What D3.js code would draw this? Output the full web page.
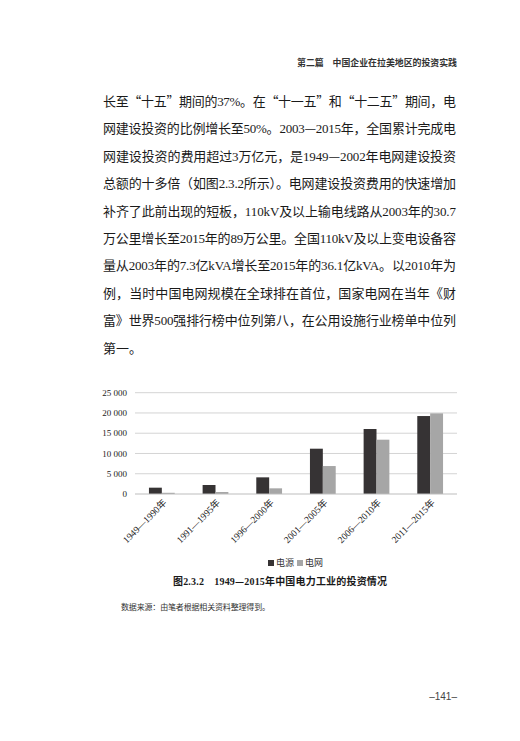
<!DOCTYPE html>
<html>
<head>
<meta charset="utf-8">
<script src="https://cdn.jsdelivr.net/npm/d3@7"></script>
<style>
    html, body { margin: 0; padding: 0; background: #fff; }
    svg { display: block; }
</style>
</head>
<body>
<div id="page"></div>
<script>
// Chart data (unit: 亿元)
const categories = ['1949—1990年', '1991—1995年', '1996—2000年', '2001—2005年', '2006—2010年', '2011—2015年'];
const seriesNames = ['电源', '电网'];
const powerSource = [1560, 2220, 4110, 11180, 16040, 19240];
const powerGrid = [300, 490, 1400, 6900, 13400, 19900];
const yTicks = [0, 5000, 10000, 15000, 20000, 25000];
const yTickLabels = ['0', '5 000', '10 000', '15 000', '20 000', '25 000'];

// Page texts
const headerText = '第二篇　中国企业在拉美地区的投资实践';
const bodyLines = [
    '长至“十五”期间的37%。在“十一五”和“十二五”期间，电',
    '网建设投资的比例增长至50%。2003—2015年，全国累计完成电',
    '网建设投资的费用超过3万亿元，是1949—2002年电网建设投资',
    '总额的十多倍（如图2.3.2所示）。电网建设投资费用的快速增加',
    '补齐了此前出现的短板，110kV及以上输电线路从2003年的30.7',
    '万公里增长至2015年的89万公里。全国110kV及以上变电设备容',
    '量从2003年的7.3亿kVA增长至2015年的36.1亿kVA。以2010年为',
    '例，当时中国电网规模在全球排在首位，国家电网在当年《财',
    '富》世界500强排行榜中位列第八，在公用设施行业榜单中位列',
    '第一。'
];
const captionText = '图2.3.2　1949—2015年中国电力工业的投资情况';
const sourceText = '数据来源：由笔者根据相关资料整理得到。';
const pageNumber = '–141–';

const W = 520, H = 741;
const SERIF = '"Liberation Serif", "Noto Sans CJK SC", serif';
const CJK = '"Noto Sans CJK SC", sans-serif';
const colors = ['#363334', '#a6a6a6'];

/**
 * Split a mixed line into latin (serif) and CJK runs as tspans
 */
function fillMixed(sel, str) {
    str.split(/([0-9A-Za-z.%]+)/).filter(s => s.length).forEach(part => {
        const latin = /^[0-9A-Za-z.%]+$/.test(part);
        sel.append('tspan')
            .style('font-family', latin ? SERIF : CJK)
            .text(part);
    });
}

const svg = d3.select('#page')
    .append('svg')
    .attr('width', W)
    .attr('height', H);

svg.append('rect')
    .attr('width', W)
    .attr('height', H)
    .attr('fill', '#fff');

// Running header
svg.append('text')
    .attr('x', 297)
    .attr('y', 66)
    .attr('textLength', 160)
    .attr('lengthAdjust', 'spacingAndGlyphs')
    .style('font-family', CJK)
    .style('font-size', '9px')
    .style('font-weight', 700)
    .attr('fill', '#333')
    .text(headerText);

// Body paragraph, justified line by line
const textLeft = 103, textWidth = 353;
svg.append('g')
    .selectAll('text')
    .data(bodyLines)
    .enter()
    .append('text')
    .attr('x', textLeft)
    .attr('y', (d, i) => 106 + i * 27.4)
    .style('font-size', '13px')
    .attr('fill', '#1a1a1a')
    .each(function (d, i) {
        const t = d3.select(this);
        if (i < bodyLines.length - 1) {
            t.attr('textLength', textWidth).attr('lengthAdjust', 'spacing');
        }
        fillMixed(t, d);
    });

// Bar chart
const plot = { left: 135, right: 457, top: 392.7, bottom: 494 };

const x0 = d3.scaleBand()
    .domain(categories)
    .range([plot.left, plot.right])
    .padding(0);

const x1 = d3.scaleBand()
    .domain(seriesNames)
    .range([x0.bandwidth() * 0.26, x0.bandwidth() * 0.74])
    .padding(0);

const y = d3.scaleLinear()
    .domain([0, 25000])
    .range([plot.bottom, plot.top]);

const chart = svg.append('g');

// Gridlines
chart.append('g')
    .selectAll('line')
    .data(yTicks.slice(1))
    .enter()
    .append('line')
    .attr('x1', plot.left)
    .attr('x2', plot.right)
    .attr('y1', d => y(d))
    .attr('y2', d => y(d))
    .attr('stroke', '#d4d4d4')
    .attr('stroke-width', 1);

// Y axis labels
chart.append('g')
    .selectAll('text')
    .data(yTicks)
    .enter()
    .append('text')
    .attr('x', 127)
    .attr('y', d => y(d))
    .attr('dy', '0.35em')
    .attr('text-anchor', 'end')
    .style('font-family', SERIF)
    .style('font-size', '9px')
    .attr('fill', '#222')
    .text((d, i) => yTickLabels[i]);

// Bars
const rows = categories.map((c, i) => ({ category: c, values: [powerSource[i], powerGrid[i]] }));

const groups = chart.append('g')
    .selectAll('g')
    .data(rows)
    .enter()
    .append('g')
    .attr('transform', d => `translate(${x0(d.category)},0)`);

groups.selectAll('rect')
    .data(d => d.values.map((v, k) => ({ key: seriesNames[k], value: v, k })))
    .enter()
    .append('rect')
    .attr('x', d => x1(d.key))
    .attr('y', d => y(d.value))
    .attr('width', x1.bandwidth())
    .attr('height', d => plot.bottom - y(d.value))
    .attr('fill', d => colors[d.k]);

// X axis line
chart.append('line')
    .attr('x1', plot.left)
    .attr('x2', plot.right)
    .attr('y1', plot.bottom)
    .attr('y2', plot.bottom)
    .attr('stroke', '#bdbdbd')
    .attr('stroke-width', 1);

// X axis labels, rotated
chart.append('g')
    .selectAll('text')
    .data(categories)
    .enter()
    .append('text')
    .attr('transform', d => `translate(${x0(d) + x0.bandwidth() / 2 + 3},${plot.bottom + 7}) rotate(-45)`)
    .attr('text-anchor', 'end')
    .attr('dy', '0.35em')
    .style('font-family', SERIF)
    .style('font-size', '9.5px')
    .attr('fill', '#222')
    .text(d => d);

// Legend
const legend = chart.append('g')
    .attr('transform', 'translate(268,563)');

const legendItems = legend.selectAll('g')
    .data(seriesNames)
    .enter()
    .append('g')
    .attr('transform', (d, i) => `translate(${i * 29},0)`);

legendItems.append('rect')
    .attr('x', 0)
    .attr('y', -3)
    .attr('width', 6)
    .attr('height', 6)
    .attr('fill', (d, i) => colors[i]);

legendItems.append('text')
    .attr('x', 8)
    .attr('y', 0)
    .attr('dy', '0.35em')
    .style('font-family', CJK)
    .style('font-size', '9px')
    .attr('fill', '#333')
    .text(d => d);

// Figure caption
const caption = svg.append('text')
    .attr('x', 173)
    .attr('y', 585)
    .attr('textLength', 214)
    .attr('lengthAdjust', 'spacing')
    .style('font-size', '10px')
    .style('font-weight', 700)
    .attr('fill', '#1a1a1a');
fillMixed(caption, captionText);

// Source note
svg.append('text')
    .attr('x', 121)
    .attr('y', 610)
    .attr('textLength', 149)
    .attr('lengthAdjust', 'spacing')
    .style('font-family', CJK)
    .style('font-size', '8px')
    .attr('fill', '#333')
    .text(sourceText);

// Page number
svg.append('text')
    .attr('x', 457)
    .attr('y', 700)
    .attr('text-anchor', 'end')
    .style('font-family', '"Liberation Sans", sans-serif')
    .style('font-size', '10px')
    .attr('fill', '#444')
    .text(pageNumber);
</script>
</body>
</html>
